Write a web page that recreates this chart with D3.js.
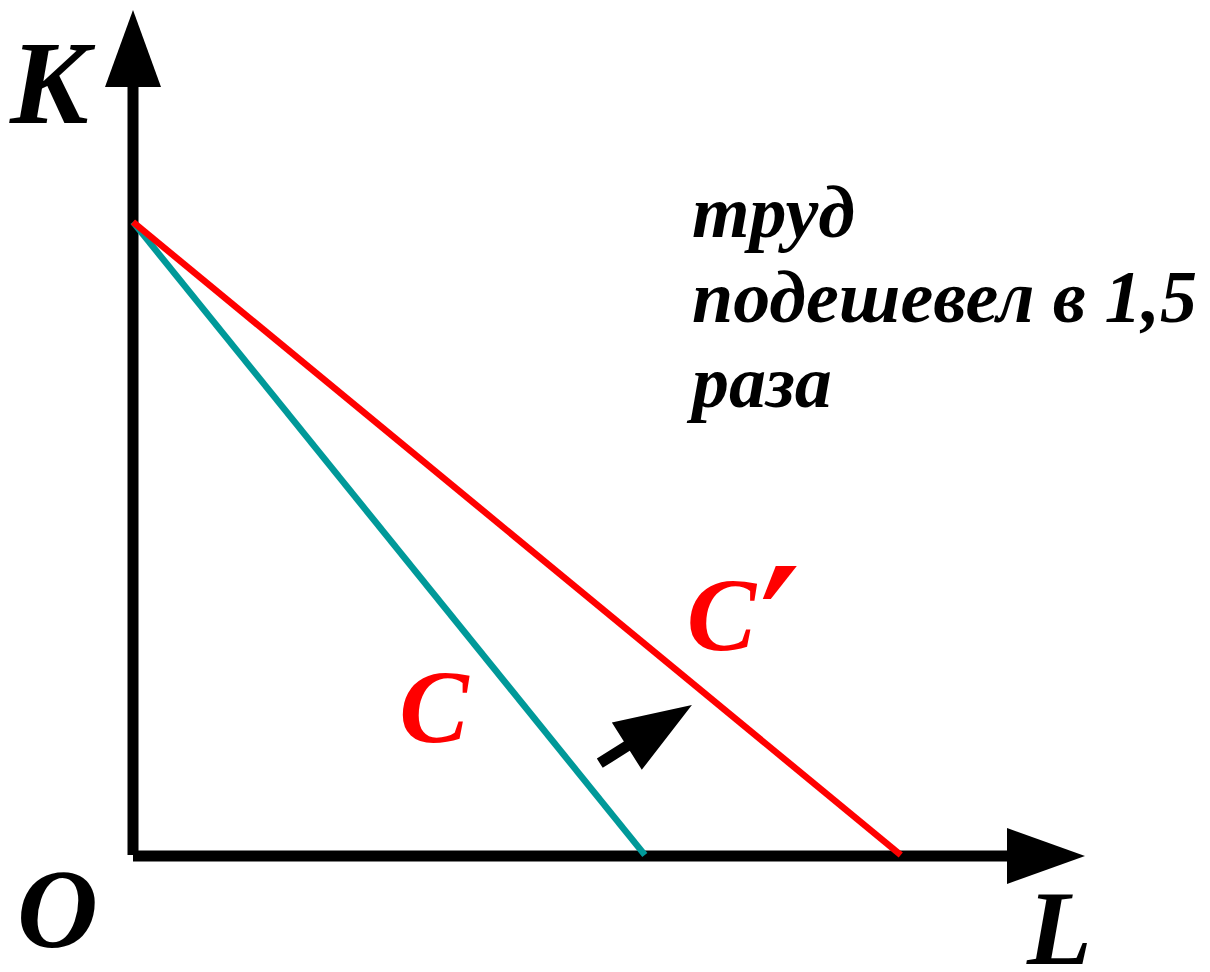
<!DOCTYPE html>
<html>
<head>
<meta charset="utf-8">
<script src="https://cdn.jsdelivr.net/npm/d3@7"></script>
<style>
    html, body { margin: 0; padding: 0; background: #fff; }
    svg { display: block; }
    text { font-family: "Liberation Serif", "Times New Roman", serif; font-weight: bold; font-style: italic; }
</style>
</head>
<body>
<svg></svg>
<script>
/* budget lines: K = capital, L = labour */
const budgetC = [{L: 0, K: 10}, {L: 10, K: 0}];
const budgetC2 = [{L: 0, K: 10}, {L: 15, K: 0}];
const shiftArrow = [{L: 9.12, K: 1.45}, {L: 10.92, K: 2.37}];
const captionLines = ["труд", "подешевел в 1,5", "раза"];
const lineLabels = [
    {text: "C", prime: false, L: 5.2, K: 1.78},
    {text: "C", prime: true, L: 10.82, K: 3.24}
];

const width = 1210;
const height = 972;

const svg = d3.select("svg")
    .attr("width", width)
    .attr("height", height);

const x = d3.scaleLinear().domain([0, 18.6]).range([133, 1085]);
const y = d3.scaleLinear().domain([0, 13.35]).range([855, 10]);

const line = d3.line()
    .x((d) => x(d.L))
    .y((d) => y(d.K));

/* axes with arrow heads */
const x0 = x(0), y0 = y(0);
const xEnd = x.range()[1], yEnd = y.range()[1];

svg.append("line")
    .attr("x1", x0).attr("y1", y0)
    .attr("x2", x0).attr("y2", yEnd + 77)
    .attr("stroke", "#000").attr("stroke-width", 11);
svg.append("path")
    .attr("d", `M${x0},${yEnd}L${x0 + 28},${yEnd + 77}L${x0 - 28},${yEnd + 77}Z`)
    .attr("fill", "#000");

svg.append("line")
    .attr("x1", x0).attr("y1", y0 + 1)
    .attr("x2", xEnd - 78).attr("y2", y0 + 1)
    .attr("stroke", "#000").attr("stroke-width", 11);
svg.append("path")
    .attr("d", `M${xEnd},${y0 + 1}L${xEnd - 78},${y0 + 29}L${xEnd - 78},${y0 - 27}Z`)
    .attr("fill", "#000");

/* budget lines */
svg.append("path")
    .datum(budgetC)
    .attr("fill", "none")
    .attr("stroke", "#009999")
    .attr("stroke-width", 6.5)
    .attr("d", line);

svg.append("path")
    .datum(budgetC2)
    .attr("fill", "none")
    .attr("stroke", "#ff0000")
    .attr("stroke-width", 6.5)
    .attr("d", line);

/* shift arrow */
const a = [x(shiftArrow[0].L), y(shiftArrow[0].K)];
const b = [x(shiftArrow[1].L), y(shiftArrow[1].K)];
const len = Math.hypot(b[0] - a[0], b[1] - a[1]);
const ang = Math.atan2(b[1] - a[1], b[0] - a[0]) * 180 / Math.PI;
const headLen = 77, headHalf = 28, shaftHalf = 5.5;
svg.append("path")
    .attr("transform", `translate(${a}) rotate(${ang})`)
    .attr("d", `M0,${-shaftHalf}L${len - headLen},${-shaftHalf}L${len - headLen},${-headHalf}` +
        `L${len},0L${len - headLen},${headHalf}L${len - headLen},${shaftHalf}L0,${shaftHalf}Z`)
    .attr("fill", "#000");

/* axis labels */
svg.append("text").attr("x", 10).attr("y", 123).attr("font-size", 118).text("K");
svg.append("text").attr("x", 17).attr("y", 947).attr("font-size", 112).text("O");
svg.append("text").attr("x", 1027).attr("y", 964).attr("font-size", 106).text("L");

/* line labels */
const lbl = svg.selectAll(".lbl")
    .data(lineLabels)
    .enter().append("text")
    .attr("class", "lbl")
    .attr("x", (d) => x(d.L))
    .attr("y", (d) => y(d.K))
    .attr("font-size", 104)
    .attr("fill", "#ff0000")
    .text((d) => d.text);

/* the prime mark is a drawn slanted wedge, like the bold italic one in the original */
lbl.filter((d) => d.prime)
    .each(function(d) {
        const px = x(d.L) + 89, py = y(d.K) - 84;
        svg.append("path")
            .attr("d", `M${px},${py}L${px + 21},${py}L${px - 5},${py + 33}L${px - 13},${py + 33}Z`)
            .attr("fill", "#ff0000");
    });

/* caption */
svg.append("g")
    .selectAll("text")
    .data(captionLines)
    .enter().append("text")
    .attr("x", 692)
    .attr("y", (d, i) => 237 + i * 85)
    .attr("font-size", 74)
    .text((d) => d);
</script>
</body>
</html>
